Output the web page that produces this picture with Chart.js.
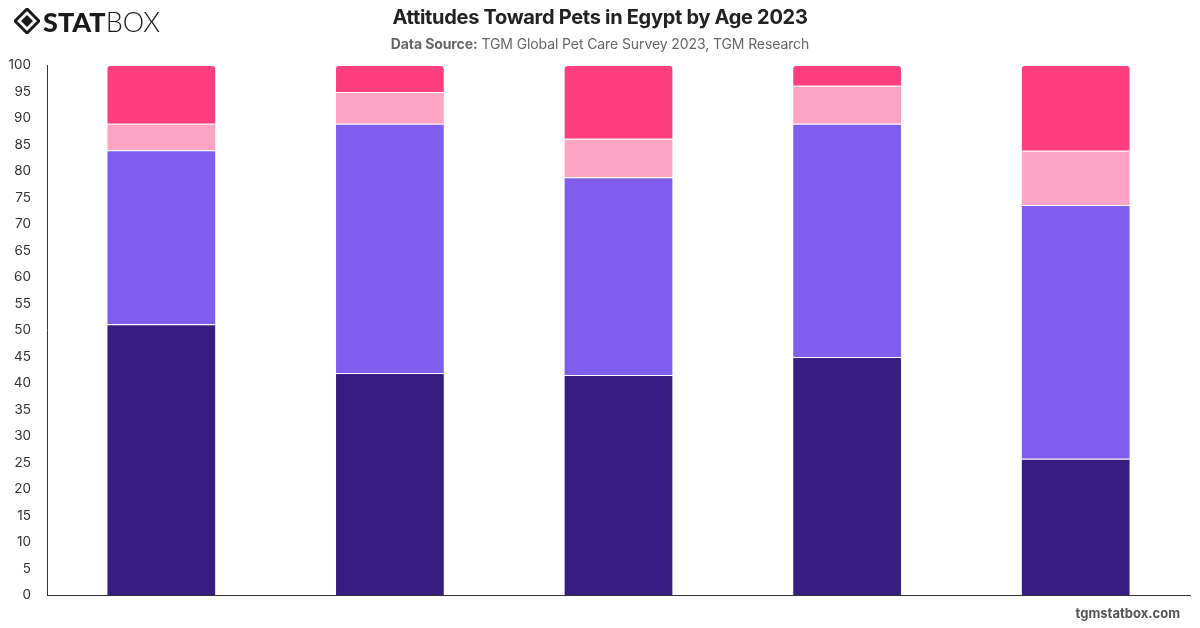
<!DOCTYPE html>
<html>
<head>
<meta charset="utf-8">
<script src="https://cdn.jsdelivr.net/npm/chart.js@4/dist/chart.umd.min.js"></script>
<style>
  html, body { margin: 0; padding: 0; background: #ffffff; }
  #wrap { position: relative; width: 1200px; height: 628px; overflow: hidden; font-family: Inter, "Open Sans", sans-serif; }
  #chartBox { position: absolute; left: 0; top: 0; width: 1200px; height: 628px; }
  #title { position: absolute; left: 0; width: 1200px; top: 5px; text-align: center; font-size: 20px; font-weight: 700; color: #222; letter-spacing: -0.3px; }
  #subtitle { position: absolute; left: 0; width: 1200px; top: 35px; text-align: center; font-size: 14px; color: #666; letter-spacing: -0.1px; }
  #subtitle b { font-weight: 700; color: #666; }
  #footer { position: absolute; right: 20px; top: 605px; font-size: 13px; font-weight: 700; color: #555; }
  #logo { position: absolute; left: 14px; top: 6px; height: 30px; display: flex; align-items: center; }
  #logo .stat { font-family: Lato, "Open Sans", sans-serif; font-weight: 900; font-size: 27px; color: #1a1a1a; margin-left: 3px; }
  #logo .box { font-family: Lato, "Open Sans", sans-serif; font-weight: 300; font-size: 27px; color: #1a1a1a; }
</style>
</head>
<body>
<div id="wrap">
  <div id="chartBox"><canvas id="c" width="1200" height="628"></canvas></div>
  <div id="logo">
    <svg width="26" height="26" viewBox="0 0 26 26">
      <polygon points="13,1 25,13 13,25 1,13" fill="none" stroke="#1a1a1a" stroke-width="3"/>
      <polygon points="13,7 19,13 13,19 7,13" fill="#1a1a1a"/>
    </svg>
    <span class="stat">STAT</span><span class="box">BOX</span>
  </div>
  <div id="title">Attitudes Toward Pets in Egypt by Age 2023</div>
  <div id="subtitle"><b>Data Source:</b> TGM Global Pet Care Survey 2023, TGM Research</div>
  <div id="footer">tgmstatbox.com</div>
</div>
<script>
const categories = ["18-24", "25-34", "35-44", "45-54", "55+"];
const seriesNames = ["I consider my pet a family member", "I love my pet", "My pet is a companion", "Other"];
const series1 = [51.1, 41.9, 41.5, 44.9, 25.7];
const series2 = [32.8, 47.0, 37.3, 44.0, 47.9];
const series3 = [5.0, 6.0, 7.3, 7.2, 10.2];
const series4 = [11.1, 5.1, 13.9, 3.9, 16.2];
const colors = ["#371c82", "#7f5eee", "#ffa3c4", "#ff3e80"];
const yTicks = [0,5,10,15,20,25,30,35,40,45,50,55,60,65,70,75,80,85,90,95,100];

const allSeries = [series1, series2, series3, series4];
const datasets = allSeries.map((d, i) => ({
  label: seriesNames[i],
  data: d,
  backgroundColor: colors[i],
  borderColor: "#ffffff",
  borderWidth: 1,
  borderSkipped: "bottom",
  borderRadius: i === allSeries.length - 1 ? { topLeft: 4, topRight: 4, bottomLeft: 0, bottomRight: 0 } : 0,
  categoryPercentage: 0.8,
  barPercentage: 0.6
}));

new Chart(document.getElementById("c"), {
  type: "bar",
  data: { labels: categories, datasets },
  options: {
    responsive: false,
    animation: false,
    layout: { padding: { top: 65, bottom: 25, left: 0, right: 10 } },
    plugins: { legend: { display: false }, tooltip: { enabled: false }, title: { display: false } },
    scales: {
      x: {
        stacked: true,
        grid: { display: false },
        border: { display: true, color: "#333333", width: 1 },
        ticks: { display: false }
      },
      y: {
        stacked: true,
        min: 0, max: 100,
        afterBuildTicks: (s) => { s.ticks = yTicks.map(v => ({ value: v })); },
        afterFit: (s) => { s.width = 47; },
        grid: { display: false },
        border: { display: true, color: "#333333", width: 1 },
        ticks: { padding: 8, color: "#333333", font: { family: "Inter", size: 13.5 } }
      }
    }
  }
});
</script>
</body>
</html>
